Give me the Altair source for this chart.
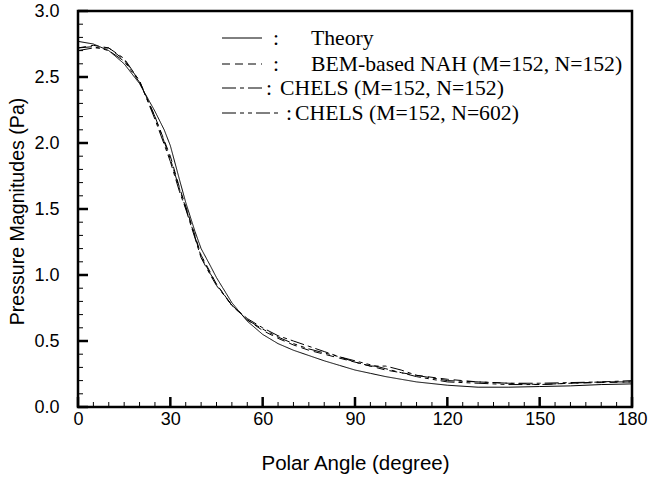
import altair as alt
import pandas as pd

# ---- data ----
angles = [0, 5, 10, 15, 20, 25, 28, 30, 33, 35, 38, 40, 43, 45, 50, 55, 60, 65, 70, 75, 80, 85, 90, 95, 100, 105, 110, 120, 130, 140, 150, 160, 170, 180]
theory = [2.77, 2.75, 2.70, 2.60, 2.45, 2.24, 2.10, 1.98, 1.72, 1.55, 1.33, 1.20, 1.07, 0.98, 0.79, 0.65, 0.55, 0.48, 0.43, 0.39, 0.35, 0.315, 0.28, 0.255, 0.23, 0.21, 0.19, 0.165, 0.15, 0.15, 0.155, 0.16, 0.17, 0.175]
bem = [2.72, 2.74, 2.72, 2.63, 2.47, 2.20, 2.02, 1.90, 1.66, 1.52, 1.30, 1.15, 1.02, 0.93, 0.77, 0.66, 0.58, 0.52, 0.47, 0.43, 0.40, 0.37, 0.34, 0.31, 0.28, 0.26, 0.24, 0.21, 0.19, 0.18, 0.17, 0.18, 0.185, 0.19]
chels152 = [2.70, 2.72, 2.72, 2.64, 2.47, 2.18, 1.99, 1.86, 1.63, 1.50, 1.28, 1.13, 1.00, 0.92, 0.77, 0.67, 0.60, 0.54, 0.50, 0.46, 0.42, 0.38, 0.34, 0.31, 0.31, 0.28, 0.24, 0.20, 0.19, 0.18, 0.18, 0.185, 0.19, 0.20]
chels602 = [2.72, 2.73, 2.70, 2.62, 2.46, 2.20, 2.01, 1.88, 1.65, 1.51, 1.29, 1.14, 1.01, 0.93, 0.77, 0.66, 0.59, 0.53, 0.48, 0.44, 0.41, 0.38, 0.35, 0.32, 0.29, 0.26, 0.23, 0.19, 0.18, 0.17, 0.17, 0.18, 0.19, 0.19]

series_names = ["Theory", "BEM-based NAH (M=152, N=152)", "CHELS (M=152, N=152)", "CHELS (M=152, N=602)"]
series_values = [theory, bem, chels152, chels602]
dashes = [[1, 0], [8, 5], [14, 4, 4, 4], [14, 4, 4, 4, 4, 4]]

x_major = [0, 30, 60, 90, 120, 150, 180]
x_minor = [5, 10, 15, 20, 25, 35, 40, 45, 50, 55, 65, 70, 75, 80, 85, 95, 100, 105, 110, 115, 125, 130, 135, 140, 145, 155, 160, 165, 170, 175]
y_major = [0.0, 0.5, 1.0, 1.5, 2.0, 2.5, 3.0]
y_minor = [0.1, 0.2, 0.3, 0.4, 0.6, 0.7, 0.8, 0.9, 1.1, 1.2, 1.3, 1.4, 1.6, 1.7, 1.8, 1.9, 2.1, 2.2, 2.3, 2.4, 2.6, 2.7, 2.8, 2.9]

W, H = 554, 396

rows = []
for name, vals in zip(series_names, series_values):
    for a, v in zip(angles, vals):
        rows.append({"angle": a, "p": v, "series": name})
df = pd.DataFrame(rows)

xs = alt.Scale(domain=[0, 180], nice=False)
ys = alt.Scale(domain=[0, 3], nice=False)
dash_scale = alt.Scale(domain=series_names, range=dashes)

font = "Liberation Sans"
serif = "Liberation Serif"
XT = "Polar Angle (degree)"
YT = "Pressure Magnitudes (Pa)"

x_axis = alt.Axis(
    values=x_major, title=XT, grid=False, domain=False, labelFlush=False,
    ticks=False, labelPadding=3, labelFontSize=18, labelFont=font, labelColor="black",
    titleFont=font, titleFontSize=20.5, titleFontWeight="normal", titleColor="black",
    titleX=W / 2, titleY=56, titleBaseline="middle")
y_axis = alt.Axis(
    values=y_major, format=".1f", title=YT, grid=False, domain=False, labelFlush=False,
    ticks=False, labelPadding=19, labelFontSize=18, labelFont=font, labelColor="black",
    titleFont=font, titleFontSize=19.6, titleFontWeight="normal", titleColor="black",
    titleX=-61, titleY=200, titleAngle=-90, titleAlign="center", titleBaseline="middle")

lines = alt.Chart(df).mark_line(color="black", strokeWidth=1, clip=True).encode(
    x=alt.X("angle:Q", scale=xs, axis=x_axis, title=XT),
    y=alt.Y("p:Q", scale=ys, axis=y_axis, title=YT),
    strokeDash=alt.StrokeDash("series:N", scale=dash_scale, legend=None),
    detail="series:N",
)

def yticks(vals, length, width):
    return alt.Chart(pd.DataFrame({"v": vals})).mark_rule(color="black", strokeWidth=width).encode(
        y=alt.Y("v:Q", scale=ys, axis=y_axis, title=YT), x=alt.value(0), x2=alt.value(length))

def xticks(vals, length, width):
    return alt.Chart(pd.DataFrame({"v": vals})).mark_rule(color="black", strokeWidth=width).encode(
        x=alt.X("v:Q", scale=xs, axis=x_axis, title=XT), y=alt.value(H), y2=alt.value(H - length))

# ---- legend (custom, mimicking the reference layout) ----
leg_y = [27, 53, 77, 102]
leg_x0 = [144, 144, 144, 144]
leg_x1 = [184, 184, 184, 204]
colon_x = [195, 195, 188, 208]
text_x = [233, 233, 202, 217]
leg = pd.DataFrame({"series": series_names, "ly": leg_y, "x0": leg_x0, "x1": leg_x1,
                    "cx": colon_x, "tx": text_x})

leg_lines = alt.Chart(leg).mark_rule(color="black", strokeWidth=1).encode(
    x=alt.X("x0:Q", scale=None), x2="x1:Q", y=alt.Y("ly:Q", scale=None),
    strokeDash=alt.StrokeDash("series:N", scale=dash_scale, legend=None))
leg_colon = alt.Chart(leg).mark_text(font=serif, fontSize=21.7, align="left", baseline="middle", color="black").encode(
    x=alt.X("cx:Q", scale=None), y=alt.Y("ly:Q", scale=None), text=alt.value(":"))
leg_text = alt.Chart(leg).mark_text(font=serif, fontSize=21.7, align="left", baseline="middle", color="black").encode(
    x=alt.X("tx:Q", scale=None), y=alt.Y("ly:Q", scale=None), text="series:N")

chart = alt.layer(
    lines,
    yticks(y_major, 10, 2.5), yticks(y_minor, 5, 1),
    xticks(x_major, 10, 2.5), xticks(x_minor, 5, 1),
    leg_lines, leg_colon, leg_text,
).properties(
    width=W, height=H,
    autosize=alt.AutoSizeParams(type="none"),
    padding={"left": 78, "top": 11, "right": 18, "bottom": 71},
    background="white",
).configure_view(stroke="black", strokeWidth=2.5)

chart.save("out.html", embed_options={"renderer": "svg", "actions": False})
